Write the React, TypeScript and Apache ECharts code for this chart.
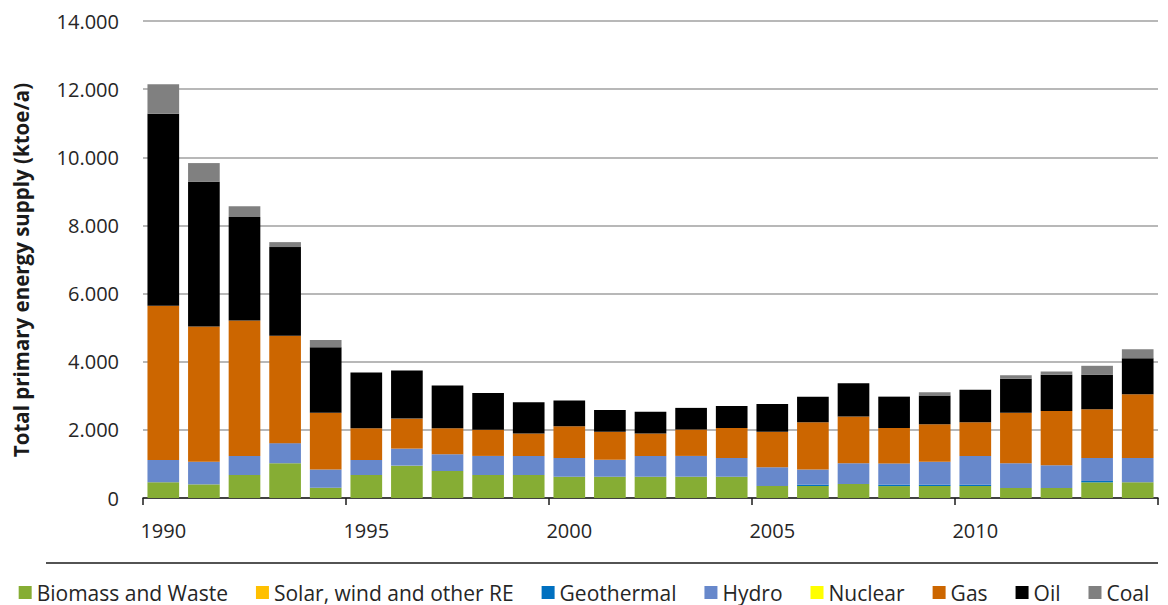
import React, { useEffect, useRef } from "react";
import * as echarts from "echarts";

const years = [
  "1990", "1991", "1992", "1993", "1994", "1995", "1996", "1997", "1998", "1999",
  "2000", "2001", "2002", "2003", "2004", "2005", "2006", "2007", "2008", "2009",
  "2010", "2011", "2012", "2013", "2014",
];

const biomass = [460, 400, 675, 1020, 300, 675, 950, 795, 675, 675, 625, 625, 625, 625, 625, 350, 350, 410, 350, 350, 350, 295, 295, 460, 460];
const solar = [0, 0, 0, 0, 0, 0, 0, 0, 0, 0, 0, 0, 0, 0, 0, 0, 0, 0, 0, 0, 0, 0, 0, 0, 0];
const geothermal = [0, 0, 0, 0, 0, 0, 0, 0, 0, 0, 0, 0, 0, 0, 0, 0, 40, 0, 40, 40, 40, 0, 0, 40, 0];
const hydro = [655, 665, 560, 590, 540, 440, 500, 490, 560, 560, 550, 500, 610, 610, 550, 550, 450, 610, 625, 675, 845, 725, 665, 675, 715];
const nuclear = [0, 0, 0, 0, 0, 0, 0, 0, 0, 0, 0, 0, 0, 0, 0, 0, 0, 0, 0, 0, 0, 0, 0, 0, 0];
const gas = [4530, 3965, 3975, 3150, 1665, 930, 880, 765, 770, 655, 930, 820, 655, 775, 880, 1045, 1380, 1370, 1040, 1100, 990, 1480, 1595, 1430, 1870];
const oil = [5630, 4250, 3035, 2605, 1920, 1635, 1410, 1250, 1075, 920, 755, 635, 645, 635, 645, 815, 755, 980, 920, 840, 950, 1000, 1060, 1010, 1055];
const coal = [870, 550, 315, 145, 215, 0, 0, 0, 0, 0, 0, 0, 0, 0, 0, 0, 0, 0, 0, 100, 0, 100, 100, 265, 265];

const seriesNames = [
  "Biomass and Waste",
  "Solar, wind and other RE",
  "Geothermal",
  "Hydro",
  "Nuclear",
  "Gas",
  "Oil",
  "Coal",
];
const seriesData = [biomass, solar, geothermal, hydro, nuclear, gas, oil, coal];
const seriesColors = ["#86AD34", "#FFC000", "#0070C0", "#6788CB", "#FFFF00", "#CC6600", "#000000", "#808080"];

const yTicks = [0, 2000, 4000, 6000, 8000, 10000, 12000, 14000];

const FONT = "'Open Sans', 'Noto Sans', sans-serif";

export default function App() {
  const ref = useRef<HTMLDivElement>(null);

  useEffect(() => {
    if (!ref.current) return;
    const chart = echarts.init(ref.current, undefined, { renderer: "svg" });
    const fmt = (v: number) => (v === 0 ? "0" : Math.round(v / 1000) + ".000");
    chart.setOption({
      animation: false,
      backgroundColor: "#ffffff",
      grid: { left: 143, right: 10, top: 21, bottom: 107, containLabel: false },
      xAxis: {
        type: "category",
        data: years,
        boundaryGap: true,
        axisLine: { show: true, lineStyle: { color: "#1a1a1a", width: 1.5 } },
        axisTick: { show: true, interval: 4, length: 7, lineStyle: { color: "#1a1a1a", width: 1.5 } },
        axisLabel: {
          interval: 4,
          margin: 22,
          fontSize: 20,
          fontFamily: FONT,
          color: "#262626",
        },
        splitLine: { show: false },
      },
      yAxis: {
        type: "value",
        min: yTicks[0],
        max: yTicks[yTicks.length - 1],
        interval: 2000,
        axisLine: { show: false },
        axisTick: { show: false },
        axisLabel: {
          margin: 24,
          fontSize: 20,
          fontFamily: FONT,
          color: "#262626",
          formatter: fmt,
        },
        splitLine: { show: true, lineStyle: { color: "#A0A0A0", width: 1.5 } },
      },
      legend: {
        data: seriesNames,
        left: "center",
        top: 577,
        itemWidth: 13,
        itemHeight: 13,
        itemGap: 28,
        icon: "rect",
        textStyle: { fontSize: 21, fontFamily: FONT, color: "#262626" },
        selectedMode: false,
      },
      graphic: [
        {
          type: "line",
          shape: { x1: 46, y1: 563, x2: 1158, y2: 563 },
          style: { stroke: "#1a1a1a", lineWidth: 1.5 },
        },
        {
          type: "text",
          x: 21,
          y: 270,
          rotation: Math.PI / 2,
          style: {
            text: "Total primary energy supply (ktoe/a)",
            fontSize: 20.5,
            fontWeight: "bold",
            fontFamily: FONT,
            fill: "#1a1a1a",
            align: "center",
            verticalAlign: "middle",
          },
        },
      ],
      series: seriesNames.map((name, i) => ({
        name,
        type: "bar",
        stack: "total",
        data: seriesData[i],
        barCategoryGap: "22%",
        itemStyle: { color: seriesColors[i] },
        emphasis: { disabled: true },
      })),
    });
    return () => chart.dispose();
  }, []);

  return (
    <div
      ref={ref}
      style={{ position: "fixed", left: 0, top: 0, width: 1168, height: 605 }}
    />
  );
}
